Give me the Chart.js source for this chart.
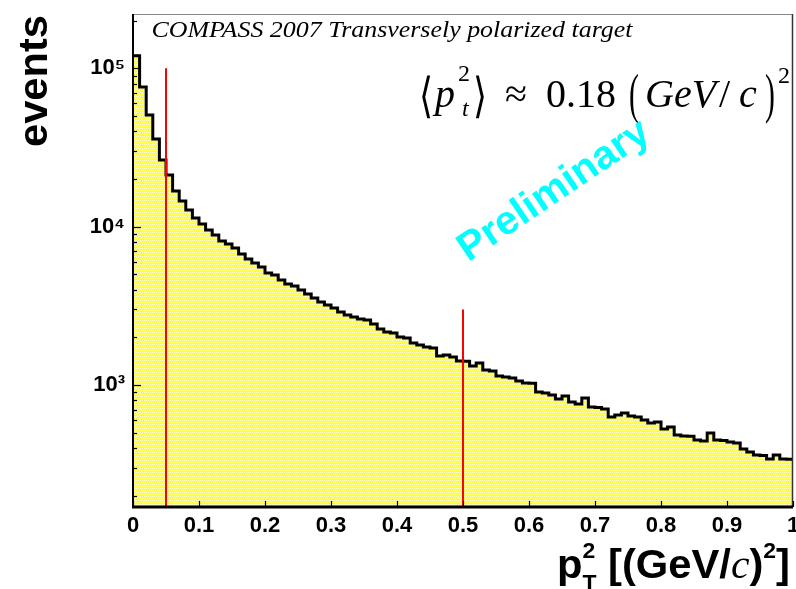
<!DOCTYPE html>
<html><head><meta charset="utf-8">
<script src="https://cdn.jsdelivr.net/npm/chart.js@4/dist/chart.umd.min.js"></script>
<style>html,body{margin:0;padding:0;background:#fff;overflow:hidden}#wrap{width:796px;height:589px;position:relative}</style>
</head><body><div id="wrap"><canvas id="c" width="796" height="589"></canvas></div>
<script>
// ---- data ----
const binEdges = [0.00,0.01,0.02,0.03,0.04,0.05,0.06,0.07,0.08,0.09,
  0.10,0.11,0.12,0.13,0.14,0.15,0.16,0.17,0.18,0.19,
  0.20,0.21,0.22,0.23,0.24,0.25,0.26,0.27,0.28,0.29,
  0.30,0.31,0.32,0.33,0.34,0.35,0.36,0.37,0.38,0.39,
  0.40,0.41,0.42,0.43,0.44,0.45,0.46,0.47,0.48,0.49,
  0.50,0.51,0.52,0.53,0.54,0.55,0.56,0.57,0.58,0.59,
  0.60,0.61,0.62,0.63,0.64,0.65,0.66,0.67,0.68,0.69,
  0.70,0.71,0.72,0.73,0.74,0.75,0.76,0.77,0.78,0.79,
  0.80,0.81,0.82,0.83,0.84,0.85,0.86,0.87,0.88,0.89,
  0.90,0.91,0.92,0.93,0.94,0.95,0.96,0.97,0.98,0.99,1.00];
const counts = [
  120000,76300,50800,35800,26400,21200,16800,14500,12750,11350,
  10400,9530,8860,8120,7780,7340,6720,6250,5900,5565,
  5100,4955,4606,4345,4220,3983,3757,3545,3344,3202,
  3065,2892,2768,2689,2612,2574,2428,2259,2162,2131,
  2010,1981,1842,1789,1738,1713,1524,1547,1503,1418,
  1412,1318,1377,1244,1226,1140,1123,1107,1060,1030,
  1026,903,890,865,816,852,781,759,828,726,
  722,705,628,646,665,637,628,601,575,584,
  527,543,483,476,474,449,443,497,449,446,
  436,430,394,377,361,359,341,361,341,340];
const cutPositions = [0.05, 0.5];
const cutHeights = [100000, 3000];
const xTickValues = [0,0.1,0.2,0.3,0.4,0.5,0.6,0.7,0.8,0.9,1];
const xTickLabels = ['0','0.1','0.2','0.3','0.4','0.5','0.6','0.7','0.8','0.9','1'];
const yTickValues = [1000, 10000, 100000];
const yTickLabels = ['10\u00B3','10\u2074','10\u2075'];
const yMinorMult = [2,3,4,5,6,7,8,9];
const yRange = [169.6, 220300];
const titleText = 'COMPASS 2007 Transversely polarized target';
const watermark = 'Preliminary';
const yTitle = 'events';

// ---- fill pattern ----
const pc = document.createElement('canvas'); pc.width = 4; pc.height = 4;
const pctx = pc.getContext('2d');
pctx.fillStyle = '#fffa48'; pctx.fillRect(0,0,4,4);
pctx.fillStyle = '#ffffc8';
[[0,0],[2,0],[1,2],[3,2]].forEach(([a,b]) => pctx.fillRect(a,b,1,1));
const pattern = pctx.createPattern(pc, 'repeat');

const histPoints = counts.map((v,i) => ({x: binEdges[i], y: v}));
histPoints.push({x: binEdges[counts.length], y: counts[counts.length-1]});

const cutDatasets = cutPositions.map((x,i) => ({
  data: [{x: x, y: yRange[0]}, {x: x, y: cutHeights[i]}],
  borderColor: '#ff0000', borderWidth: 2, pointRadius: 0, fill: false, order: 1
}));

const SANS = "'Liberation Sans', Arial, sans-serif";
const NARROW = "'Liberation Sans Narrow', 'Liberation Sans', Arial, sans-serif";
const SERIF = "'Liberation Serif', 'Times New Roman', serif";

function fitText(ctx, text, x, y, w, font) {
  ctx.save(); ctx.font = font;
  const m = ctx.measureText(text).width;
  ctx.translate(x, y); ctx.scale(w / m, 1);
  ctx.textAlign = 'left'; ctx.fillText(text, 0, 0); ctx.restore();
}
function txt(ctx, text, x, y, font, sx) {
  ctx.save(); ctx.font = font; ctx.translate(x, y); if (sx) ctx.scale(sx, 1);
  ctx.textAlign = 'left'; ctx.fillText(text, 0, 0); ctx.restore();
}

const decor = {
  id: 'decor',
  afterDraw(chart) {
    const ctx = chart.ctx, a = chart.chartArea;
    const xs = chart.scales.x, ys = chart.scales.y;
    ctx.save();
    ctx.textBaseline = 'alphabetic';
    // frame
    ctx.strokeStyle = '#888'; ctx.lineWidth = 1;
    ctx.beginPath(); ctx.moveTo(a.left, a.top + 0.5); ctx.lineTo(a.right, a.top + 0.5); ctx.stroke();
    ctx.strokeStyle = '#333'; ctx.lineWidth = 1.5;
    ctx.beginPath(); ctx.moveTo(a.right - 0.5, a.top); ctx.lineTo(a.right - 0.5, a.bottom); ctx.stroke();
    ctx.strokeStyle = '#000'; ctx.lineWidth = 2;
    ctx.beginPath(); ctx.moveTo(a.left, a.top); ctx.lineTo(a.left, a.bottom); ctx.stroke();
    ctx.lineWidth = 3;
    ctx.beginPath(); ctx.moveTo(a.left - 1, a.bottom); ctx.lineTo(a.right, a.bottom); ctx.stroke();
    // inward ticks
    ctx.lineWidth = 1.2;
    xTickValues.forEach(v => {
      const px = Math.round(xs.getPixelForValue(v)) + 0.5;
      ctx.beginPath(); ctx.moveTo(px, a.bottom); ctx.lineTo(px, a.bottom - 6); ctx.stroke();
    });
    [100, 1000, 10000, 100000].forEach(dec => {
      yMinorMult.concat([1]).forEach(m => {
        const v = dec * m;
        if (v < yRange[0] || v > yRange[1]) return;
        const py = Math.round(ys.getPixelForValue(v)) + 0.5;
        const len = m === 1 ? 8 : 4;
        ctx.beginPath(); ctx.moveTo(a.left, py); ctx.lineTo(a.left + len, py); ctx.stroke();
      });
    });
    ctx.fillStyle = '#000';
    // title inside frame
    fitText(ctx, titleText, 151.5, 36.5, 481, 'italic 23px ' + SERIF);
    // formula
    const it40 = 'italic 40px ' + SERIF, up40 = '40px ' + SERIF;
    txt(ctx, '\u27E8', 419, 112, '48px ' + SERIF, 0.75);
    txt(ctx, 'p', 435, 107, it40);
    txt(ctx, '2', 458, 81, '24px ' + SERIF);
    txt(ctx, 't', 462, 116, 'italic 24px ' + SERIF);
    txt(ctx, '\u27E9', 473, 112, '48px ' + SERIF, 0.75);
    txt(ctx, '\u2248', 505, 107, up40);
    txt(ctx, '0.18', 546, 107, up40);
    txt(ctx, '(', 629, 112, '54px ' + SERIF, 0.55);
    txt(ctx, 'GeV', 645, 107, it40);
    txt(ctx, '/', 719, 107, up40);
    txt(ctx, 'c', 739, 107, it40);
    txt(ctx, ')', 765, 112, '54px ' + SERIF, 0.55);
    txt(ctx, '2', 778, 83, '24px ' + SERIF);
    // watermark
    ctx.save();
    ctx.fillStyle = '#00ffff';
    ctx.translate(554, 191); ctx.rotate(-34 * Math.PI / 180);
    ctx.font = 'bold 40px ' + SANS;
    const wm = ctx.measureText(watermark).width;
    ctx.scale(222 / wm, 1);
    ctx.textAlign = 'center'; ctx.textBaseline = 'middle';
    ctx.fillText(watermark, 0, 0);
    ctx.restore();
    // y title
    ctx.save();
    ctx.translate(47, 147); ctx.rotate(-Math.PI / 2);
    fitText(ctx, yTitle, 0, 0, 132, 'bold 40px ' + SANS);
    ctx.restore();
    // x title with sup/sub
    const B40 = 'bold 40px ' + SANS, B20 = 'bold 22px ' + SANS, CI = 'italic 40px ' + SERIF;
    const parts = [
      {t:'p', f:B40, dy:0, adv:true},
      {t:'2', f:B20, dy:-20, adv:false},
      {t:'T', f:B20, dy:12, adv:true},
      {t:' [(GeV/', f:B40, dy:0, adv:true},
      {t:'c', f:CI, dy:0, adv:true},
      {t:')', f:B40, dy:0, adv:true},
      {t:'2', f:B20, dy:-20, adv:true},
      {t:']', f:B40, dy:0, adv:true}
    ];
    let cur = 0; const pos = [];
    parts.forEach(p => { ctx.font = p.f; const w = ctx.measureText(p.t).width; pos.push(cur); if (p.adv) cur += w; });
    pos[2] = pos[1];
    const total = cur;
    ctx.save();
    ctx.translate(557, 578); ctx.scale(233 / total, 1);
    parts.forEach((p, i) => { ctx.font = p.f; ctx.fillText(p.t, pos[i], p.dy); });
    ctx.restore();
    ctx.restore();
  }
};

new Chart(document.getElementById('c'), {
  type: 'line',
  data: {
    datasets: [{
      data: histPoints, stepped: true, fill: 'start', backgroundColor: pattern,
      borderColor: '#000', borderWidth: 3, pointRadius: 0, order: 2
    }].concat(cutDatasets)
  },
  options: {
    responsive: false, animation: false, devicePixelRatio: 1,
    layout: { padding: { left: 0, right: 3, top: 14, bottom: 0 } },
    plugins: { legend: { display: false }, tooltip: { enabled: false } },
    scales: {
      x: {
        type: 'linear', min: 0, max: 1,
        afterBuildTicks: s => { s.ticks = xTickValues.map(v => ({value: v})); },
        afterFit: s => { s.height = 82; s.paddingLeft = 0; s.paddingRight = 0; },
        grid: { display: false, drawTicks: false }, border: { display: false },
        ticks: { callback: (v, i) => xTickLabels[i], color: '#000', padding: 6, maxRotation: 0, autoSkip: false,
                 font: { family: NARROW, size: 22, weight: 'bold' } }
      },
      y: {
        type: 'logarithmic', min: yRange[0], max: yRange[1],
        afterBuildTicks: s => { s.ticks = yTickValues.map(v => ({value: v})); },
        afterFit: s => { s.width = 133; s.paddingTop = 0; s.paddingBottom = 0; },
        grid: { display: false, drawTicks: false }, border: { display: false },
        ticks: { callback: (v, i) => yTickLabels[i], color: '#000', padding: 8, autoSkip: false,
                 font: { family: NARROW, size: 22, weight: 'bold' } }
      }
    }
  },
  plugins: [decor]
});
</script></body></html>
